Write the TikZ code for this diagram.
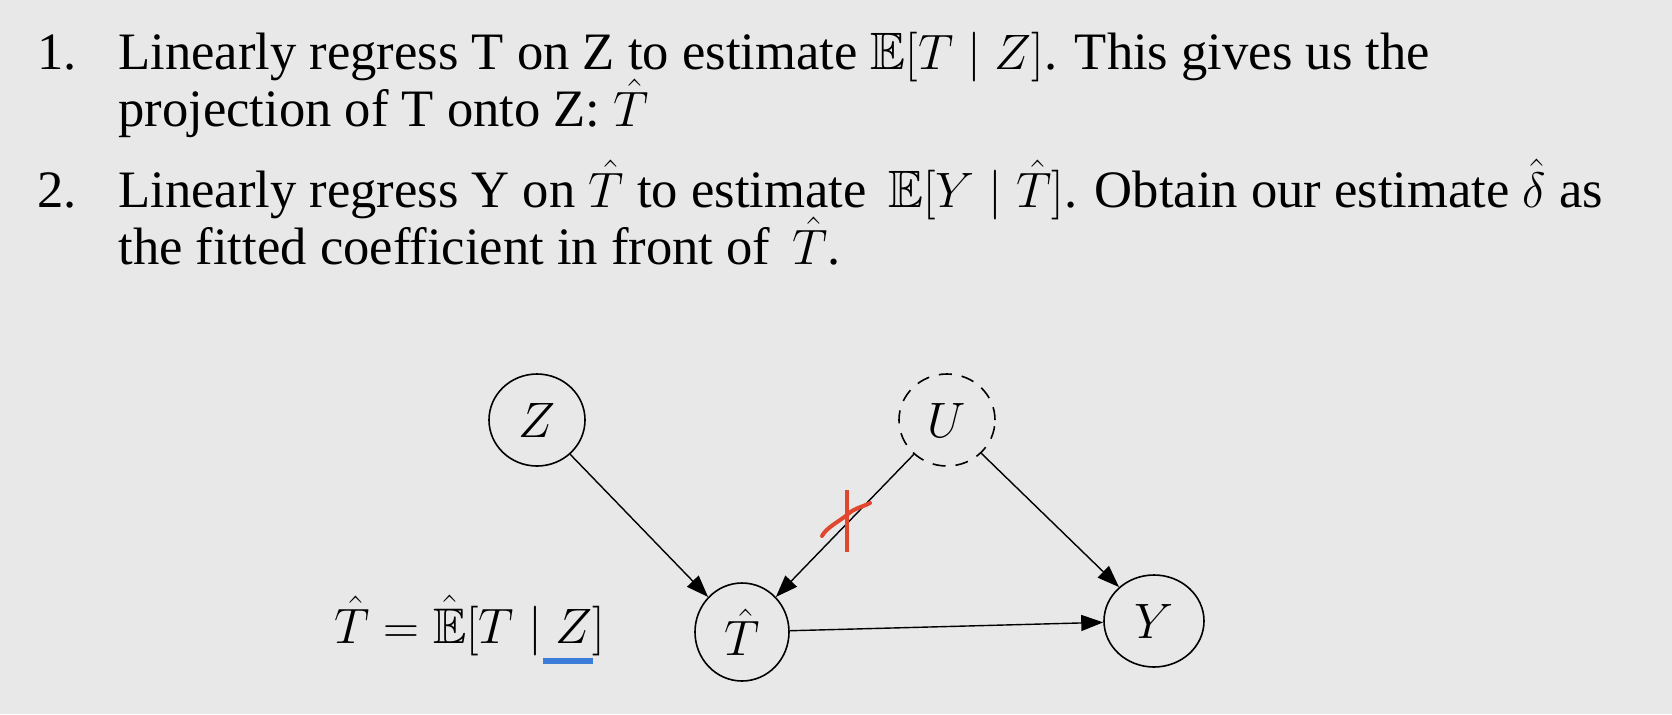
\documentclass[tikz,border=0pt]{standalone}
\usepackage{fontspec}
\usepackage{amsmath,amssymb}
\setmainfont{Liberation Serif}
\usetikzlibrary{arrows.meta,shapes.geometric}
\definecolor{bg}{HTML}{E8E8E8}
\definecolor{redmark}{HTML}{E0472E}
\definecolor{bluemark}{HTML}{3B7DD8}
\tikzset{
  txt/.style={anchor=base west, inner sep=0pt, font=\fontsize{26.3}{30}\selectfont},
  var/.style={ellipse, draw, line width=0.8pt, inner sep=0pt, minimum width=48pt, minimum height=46pt, font=\fontsize{25}{30}\selectfont},
  latentvar/.style={var, dash pattern=on 6.5pt off 5pt},
  edge/.style={line width=0.7pt, -{Triangle[length=11pt,width=8pt]}},
  redstroke/.style={draw=redmark, line width=2pt, line cap=round},
}
\begin{document}
\begin{tikzpicture}[x=0.5pt,y=-0.5pt]
\fill[bg] (0,0) rectangle (1672,714);
\useasboundingbox (0,0) rectangle (1672,714);
% text
\node[txt] (n1) at (37,69) {1.};
\node[txt] (l1a) at (118,69) {Linearly regress T on Z to estimate $\mathbb{E}[T\mid Z]$. This gives us the};
\node[txt] (l1b) at (118,126) {projection of T onto Z: $\hat{T}$};
\node[txt] (n2) at (37,207) {2.};
\node[txt] (l2a) at (118,207) {Linearly regress Y on $\hat{T}$ to estimate \,$\mathbb{E}[Y\mid \hat{T}]$. Obtain our estimate $\hat{\delta}$ as};
\node[txt] (l2b) at (118,264) {the fitted coefficient in front of \,$\hat{T}$.};
% diagram nodes
\node[var] (Z) at (537,420) {$Z$};
\node[latentvar] (U) at (947,420) {$U$};
\node[var, minimum height=49pt, minimum width=47pt] (T) at (742,632) {$\hat{T}$};
\node[var, minimum width=50pt] (Y) at (1154,621) {$Y$};
\node[anchor=base west, inner sep=0pt, font=\fontsize{25}{30}\selectfont] (eq) at (334,643) {$\hat{T}=\hat{\mathbb{E}}[T\mid Z]$};
% edges
\draw[edge] (Z) -- (T);
\draw[edge] (U) -- (T);
\draw[edge] (U) -- (Y);
\draw[edge] (T) -- (Y);
% annotations
\fill[bluemark] (543,658) rectangle (593,664);
\draw[redstroke, line cap=butt] (847,490) -- (847,552);
\draw[redstroke] (822,536) .. controls (826,528) and (838,522) .. (847,515) .. controls (854,508) and (860,508) .. (870,503);
\end{tikzpicture}
\end{document}
